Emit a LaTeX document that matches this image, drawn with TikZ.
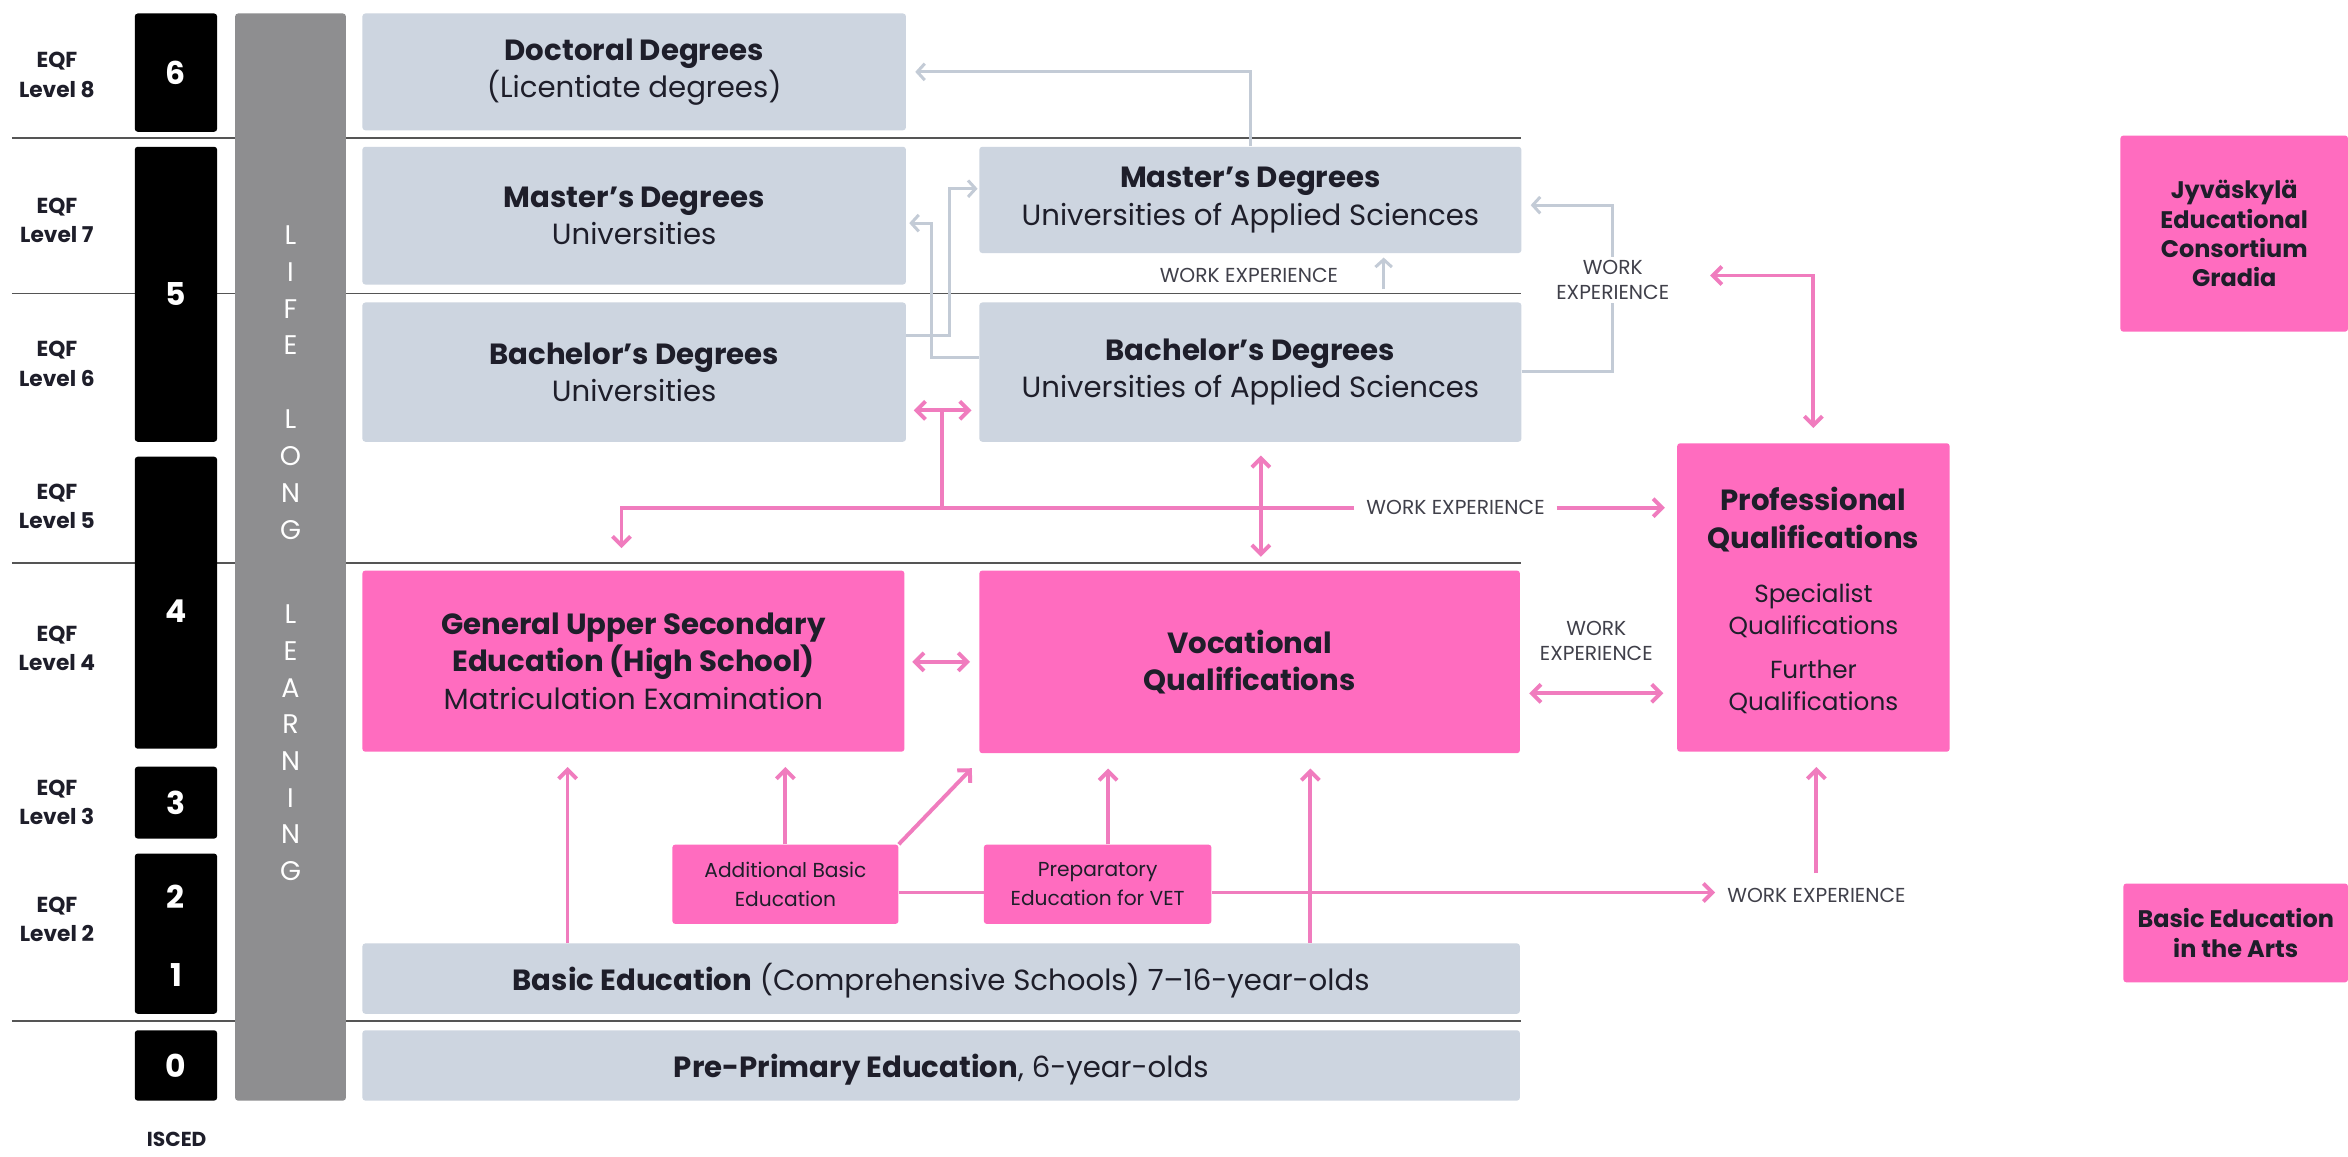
\documentclass[tikz,border=0pt]{standalone}
\usepackage{fontspec}
\setmainfont{Poppins}
\newfontfamily\widefont{Poppins}
\usetikzlibrary{arrows.meta}
\definecolor{boxblue}{HTML}{CDD5E0}
\definecolor{pinkbox}{HTML}{FF6CBF}
\definecolor{pinkline}{HTML}{F07CBE}
\definecolor{grayline}{HTML}{C3CBD6}
\definecolor{barg}{HTML}{8E8E90}
\definecolor{txt}{HTML}{1E1E2A}
\definecolor{rulec}{HTML}{555555}
\tikzset{
  lb/.style={fill=boxblue, rounded corners=2pt, inner sep=0pt, align=center, text=txt,
    font=\fontsize{19.5}{25}\selectfont, execute at begin node={\rule{0pt}{21pt}}},
  pb/.style={fill=pinkbox, rounded corners=2pt, inner sep=0pt, align=center, text=txt,
    font=\fontsize{19.5}{25}\selectfont},
  smallpb/.style={pb, font=\fontsize{13.5}{19.5}\selectfont},
  blk/.style={fill=black, rounded corners=2pt, inner sep=0pt, minimum width=55pt, text=white,
    font=\widefont\bfseries\fontsize{21}{25}\selectfont},
  num/.style={text=white, inner sep=0pt, font=\widefont\bfseries\fontsize{21}{25}\selectfont},
  eqf/.style={align=center, text=txt, inner sep=0pt, font=\widefont\bfseries\fontsize{14.5}{19.5}\selectfont},
  lll/.style={align=center, text=white, inner sep=0pt, font=\widefont\fontsize{18}{24.5}\selectfont},
  wk/.style={align=center, text=txt!85, inner sep=0pt, font=\fontsize{13.5}{17}\selectfont},
  rulel/.style={draw=rulec, line width=1.3pt},
  gline/.style={draw=grayline, line width=2pt},
  garr/.style={gline, -{Straight Barb[length=5pt,width=11pt,line width=2pt]}},
  pline/.style={draw=pinkline, line width=2.6pt},
  parr/.style={pline, -{Straight Barb[length=6pt,width=12pt,line width=2.6pt]}},
  pdbl/.style={pline, {Straight Barb[length=6pt,width=12pt,line width=2.6pt]}-{Straight Barb[length=6pt,width=12pt,line width=2.6pt]}},
}
\begin{document}
\begin{tikzpicture}[x=1pt,y=-1pt]
\useasboundingbox (0,0) rectangle (1568,772);
\fill[white] (0,0) rectangle (1568,772);

% level rules
\coordinate (r1a) at (8,92);  \coordinate (r1b) at (1016,92);
\coordinate (r2a) at (8,196); \coordinate (r2b) at (1016,196);
\coordinate (r3a) at (8,376); \coordinate (r3b) at (1016,376);
\coordinate (r4a) at (8,682); \coordinate (r4b) at (1016,682);
\draw[rulel] (r1a) -- (r1b);
\draw[rulel] (r2a) -- (r2b);
\draw[rulel] (r3a) -- (r3b);
\draw[rulel] (r4a) -- (r4b);

% EQF labels
\node[eqf] (e8) at (38,50) {EQF\\Level 8};
\node[eqf] (e7) at (38,147) {EQF\\Level 7};
\node[eqf] (e6) at (38,243) {EQF\\Level 6};
\node[eqf] (e5) at (38,338) {EQF\\Level 5};
\node[eqf] (e4) at (38,433) {EQF\\Level 4};
\node[eqf] (e3) at (38,536) {EQF\\Level 3};
\node[eqf] (e2) at (38,614) {EQF\\Level 2};
\node[eqf, font=\widefont\bfseries\fontsize{13.5}{16}\selectfont] (isced) at (118,761) {ISCED};

% ISCED black boxes
\node[blk, minimum height=79pt] (b6) at (117.5,48.5) {6};
\node[blk, minimum height=197pt] (b5) at (117.5,196.5) {5};
\node[blk, minimum height=195pt] (b4) at (117.5,402.5) {};
\node[num] (n4) at (117.5,408) {4};
\node[blk, minimum height=48pt] (b3) at (117.5,536) {3};
\node[blk, minimum height=107pt] (b21) at (117.5,623.5) {};
\node[num] (n2) at (117.5,599) {2};
\node[num] (n1) at (117.5,651) {1};
\node[blk, minimum height=47pt] (b0) at (117.5,711.5) {0};

% lifelong learning bar
\node[fill=barg, rounded corners=2pt, minimum width=74pt, minimum height=726pt, inner sep=0pt] (bar) at (194,372) {};
\node[lll] (wl1) at (194,194) {L\\I\\F\\E};
\node[lll] (wl2) at (194,317) {L\\O\\N\\G};
\node[lll] (wl3) at (194,496) {L\\E\\A\\R\\N\\I\\N\\G};

% degree boxes
\node[lb, minimum width=363pt, minimum height=78pt] (doc) at (423.5,48) {\textbf{Doctoral Degrees}\\(Licentiate degrees)};
\node[lb, minimum width=363pt, minimum height=92pt] (mu) at (423.5,144) {\textbf{Master’s Degrees}\\Universities};
\node[lb, minimum width=363pt, minimum height=93pt] (bu) at (423.5,248.5) {\textbf{Bachelor’s Degrees}\\Universities};
\node[lb, minimum width=362pt, minimum height=71pt] (muas) at (835,133.5) {\textbf{Master’s Degrees}\\Universities of Applied Sciences};
\node[lb, minimum width=362pt, minimum height=93pt] (buas) at (835,248.5) {\textbf{Bachelor’s Degrees}\\Universities of Applied Sciences};

% secondary
\node[pb, minimum width=362pt, minimum height=121pt, execute at begin node={\rule{0pt}{19pt}}] (gus) at (423,441.5) {\textbf{General Upper Secondary}\\\textbf{Education (High School)}\\Matriculation Examination};
\node[pb, minimum width=361pt, minimum height=122pt] (voc) at (834.5,442) {\textbf{Vocational}\\\textbf{Qualifications}};
\node[pb, minimum width=182pt, minimum height=206pt] (pq) at (1211,399) {};
\node[align=center, text=txt, inner sep=0pt, font=\bfseries\fontsize{19.5}{25}\selectfont] (pqh) at (1211,347) {Professional\\Qualifications};
\node[align=center, text=txt, inner sep=0pt, font=\fontsize{16.5}{21.5}\selectfont] (pqs) at (1211,408) {Specialist\\Qualifications};
\node[align=center, text=txt, inner sep=0pt, font=\fontsize{16.5}{21.5}\selectfont] (pqf) at (1211,459) {Further\\Qualifications};

\node[smallpb, minimum width=151pt, minimum height=53pt] (abe) at (524.5,590.5) {Additional Basic\\Education};
\node[smallpb, minimum width=152pt, minimum height=53pt] (pvet) at (733,590.5) {Preparatory\\Education for VET};
\node[lb, minimum width=773pt, minimum height=47pt] (be) at (628.5,653.5) {\textbf{Basic Education} (Comprehensive Schools) 7–16-year-olds};
\node[lb, minimum width=773pt, minimum height=47pt] (pp) at (628.5,711.5) {\textbf{Pre-Primary Education}, 6-year-olds};

% right boxes
\node[pb, minimum width=152pt, minimum height=131pt, font=\widefont\bfseries\fontsize{16}{19.5}\selectfont] (jy) at (1492,156) {Jyväskylä\\Educational\\Consortium\\Gradia};
\node[pb, minimum width=150pt, minimum height=66pt, font=\widefont\bfseries\fontsize{16}{20.5}\selectfont] (bea) at (1493,623) {Basic Education\\in the Arts};

% work experience labels
\node[wk] (wk0) at (834,184) {WORK EXPERIENCE};
\node[wk, fill=white, inner ysep=2pt, inner xsep=4pt] (wk1) at (1077,187) {WORK\\EXPERIENCE};
\node[wk, inner xsep=8pt] (wk2) at (972,339) {WORK EXPERIENCE};
\node[wk] (wkv) at (1066,428) {WORK\\EXPERIENCE};
\node[wk, inner xsep=8pt, inner ysep=10pt] (wk3) at (1213,598) {WORK EXPERIENCE};

% grey connectors
\coordinate (g1) at (634,224);
\coordinate (g2) at (634,126);
\coordinate (g3) at (622,239);
\coordinate (g4) at (622,149);
\coordinate (g5) at (1077,248);
\coordinate (g6) at (1077,137);
\coordinate (g7) at (924,193);
\coordinate (g8) at (924,172);
\draw[garr, shorten >=6pt] (muas.north) |- (doc.east);
\draw[garr, shorten >=1pt] (bu.east |- g1) -- (g1) -- (g2) -- (muas.west |- g2);
\draw[garr, shorten >=2pt] (buas.west |- g3) -- (g3) -- (g4) -- (mu.east |- g4);
\draw[garr, shorten >=6pt] (buas.east |- g5) -- (g5) -- (g6) -- (muas.east |- g6);
\node[wk, fill=white, inner ysep=2pt, inner xsep=4pt] at (wk1) {WORK\\EXPERIENCE};
\draw[garr] (g7) -- (g8);

% pink connectors
\coordinate (p1) at (629,274);
\coordinate (p2) at (415,366);
\coordinate (p3) at (1142,184);
\coordinate (p4) at (649,513);
\coordinate (y442) at (0,442);
\coordinate (y463) at (0,463);
\coordinate (y596) at (0,596);
\draw[pdbl, shorten <=5pt, shorten >=5pt] (bu.east |- p1) -- (buas.west |- p1);
\draw[pline] (p1) -- (p1 |- wk2.west);
\draw[parr] (wk2.west) -| (p2);
\draw[parr, shorten >=8pt] (wk2.east) -- (pq.west |- wk2.east);
\draw[pdbl, shorten <=9pt, shorten >=9pt] (buas.south -| 842,0) -- (voc.north -| 842,0);
\draw[pdbl, shorten <=5pt, shorten >=6pt] (gus.east |- y442) -- (voc.west |- y442);
\draw[pdbl, shorten <=6pt, shorten >=9pt] (voc.east |- y463) -- (pq.west |- y463);
\draw[pdbl, shorten <=10pt] (pq.north) |- (p3);
\draw[parr, shorten >=10pt] (be.north -| 379,0) -- (gus.south -| 379,0);
\draw[parr, shorten >=10pt] (abe.north) -- (gus.south -| abe.north);
\draw[parr] (abe.north east) -- (p4);
\draw[parr, shorten >=10pt] (pvet.north -| 740,0) -- (voc.south -| 740,0);
\draw[parr, shorten >=10pt] (be.north -| 875,0) -- (voc.south -| 875,0);
\draw[parr, shorten >=10pt] (wk3.north) -- (pq.south -| wk3.north);
\draw[pline] (abe.east |- y596) -- (pvet.west |- y596);
\draw[parr] (pvet.east |- y596) -- (wk3.west |- y596);
\end{tikzpicture}
\end{document}
